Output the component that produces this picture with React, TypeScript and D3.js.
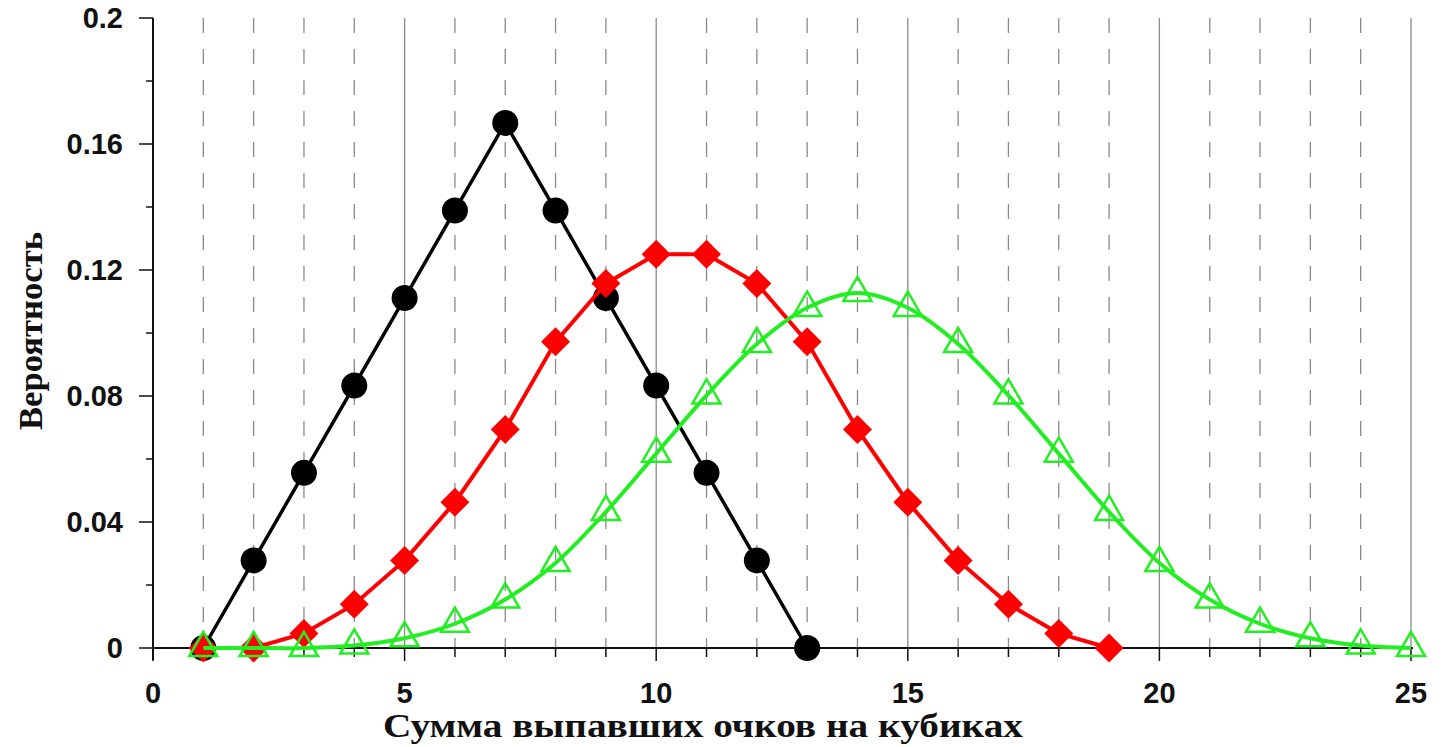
import React, { useEffect, useRef } from 'react';
import * as d3 from 'd3';

// sums of points
const sumsTwo = [1, 2, 3, 4, 5, 6, 7, 8, 9, 10, 11, 12, 13];
const sumsThree = [1, 2, 3, 4, 5, 6, 7, 8, 9, 10, 11, 12, 13, 14, 15, 16, 17, 18, 19];
const sumsFour = [1, 2, 3, 4, 5, 6, 7, 8, 9, 10, 11, 12, 13, 14, 15, 16, 17, 18, 19, 20, 21, 22, 23, 24, 25];

// probabilities
const probTwo = [0, 0.0278, 0.0556, 0.0833, 0.1111, 0.1389, 0.1667, 0.1389, 0.1111, 0.0833, 0.0556, 0.0278, 0];
const probThree = [0, 0, 0.0046, 0.0139, 0.0278, 0.0463, 0.0694, 0.0972, 0.1157, 0.125, 0.125, 0.1157, 0.0972, 0.0694, 0.0463, 0.0278, 0.0139, 0.0046, 0];
const probFour = [0, 0, 0, 0.0008, 0.0031, 0.0077, 0.0154, 0.027, 0.0432, 0.0617, 0.0802, 0.0965, 0.108, 0.1127, 0.108, 0.0965, 0.0802, 0.0617, 0.0432, 0.027, 0.0154, 0.0077, 0.0031, 0.0008, 0];

const xTickLabels = [0, 5, 10, 15, 20, 25];
const yTickLabels = [0, 0.04, 0.08, 0.12, 0.16, 0.2];

const xTitle = 'Сумма выпавших очков на кубиках';
const yTitle = 'Вероятность';

const W = 1443;
const H = 747;

const App = () => {
    const ref = useRef(null);

    useEffect(() => {
        const svg = d3.select(ref.current);
        svg.selectAll('*').remove();

        const x = d3.scaleLinear().domain([0, 25]).range([153, 1411]);
        const y = d3.scaleLinear().domain([0, 0.2]).range([648, 18]);

        // vertical grid
        const grid = svg.append('g');
        d3.range(1, 26).forEach(v => {
            grid.append('line')
                .attr('x1', x(v)).attr('x2', x(v))
                .attr('y1', y(0.2)).attr('y2', y(0))
                .attr('stroke', '#8a8a8a')
                .attr('stroke-width', 1.3)
                .attr('stroke-dasharray', v % 5 === 0 ? null : '15,16');
        });

        // axes
        const axisColor = '#111';
        svg.append('line')
            .attr('x1', x(0)).attr('x2', x(25) + 2)
            .attr('y1', y(0)).attr('y2', y(0))
            .attr('stroke', axisColor).attr('stroke-width', 2);
        svg.append('line')
            .attr('x1', x(0)).attr('x2', x(0))
            .attr('y1', y(0.2)).attr('y2', y(0) + 12)
            .attr('stroke', axisColor).attr('stroke-width', 2);

        // x ticks
        d3.range(0, 26).forEach(v => {
            svg.append('line')
                .attr('x1', x(v)).attr('x2', x(v))
                .attr('y1', y(0))
                .attr('y2', y(0) + (v % 5 === 0 ? 13 : 9))
                .attr('stroke', axisColor).attr('stroke-width', 1.5);
        });
        svg.append('g').selectAll('text')
            .data(xTickLabels)
            .join('text')
            .attr('x', d => x(d))
            .attr('y', 703)
            .attr('text-anchor', 'middle')
            .attr('font-family', '"Liberation Sans", Arial, sans-serif')
            .attr('font-weight', 'bold')
            .attr('font-size', 29)
            .attr('fill', '#111')
            .text(d => d);

        // y ticks
        d3.range(0, 11).forEach(i => {
            const v = i * 0.02;
            svg.append('line')
                .attr('x1', x(0) - (i % 2 === 0 ? 14 : 7)).attr('x2', x(0))
                .attr('y1', y(v)).attr('y2', y(v))
                .attr('stroke', axisColor).attr('stroke-width', 1.5);
        });
        svg.append('g').selectAll('text')
            .data(yTickLabels)
            .join('text')
            .attr('x', 123)
            .attr('y', d => y(d))
            .attr('dy', '0.36em')
            .attr('text-anchor', 'end')
            .attr('font-family', '"Liberation Sans", Arial, sans-serif')
            .attr('font-weight', 'bold')
            .attr('font-size', 29)
            .attr('fill', '#111')
            .text(d => d);

        // titles
        svg.append('text')
            .attr('x', 383)
            .attr('y', 737)
            .attr('textLength', 640)
            .attr('lengthAdjust', 'spacingAndGlyphs')
            .attr('font-family', '"Liberation Serif", "Times New Roman", serif')
            .attr('font-weight', 'bold')
            .attr('font-size', 34)
            .attr('fill', '#111')
            .text(xTitle);
        svg.append('text')
            .attr('transform', `translate(42,430) rotate(-90)`)
            .attr('textLength', 198)
            .attr('lengthAdjust', 'spacingAndGlyphs')
            .attr('font-family', '"Liberation Serif", "Times New Roman", serif')
            .attr('font-weight', 'bold')
            .attr('font-size', 33)
            .attr('fill', '#111')
            .text(yTitle);

        // black: two dice
        const black = sumsTwo.map((s, i) => [s, probTwo[i]]);
        svg.append('path')
            .attr('d', d3.line().x(d => x(d[0])).y(d => y(d[1]))(black))
            .attr('fill', 'none').attr('stroke', '#000').attr('stroke-width', 3.5);
        svg.append('g').selectAll('circle')
            .data(black)
            .join('circle')
            .attr('cx', d => x(d[0]))
            .attr('cy', d => y(d[1]))
            .attr('r', 13)
            .attr('fill', '#000');

        // red: three dice
        const red = sumsThree.map((s, i) => [s, probThree[i]]);
        svg.append('path')
            .attr('d', d3.line().x(d => x(d[0])).y(d => y(d[1]))(red))
            .attr('fill', 'none').attr('stroke', '#ff0000').attr('stroke-width', 4);
        const diamond = d3.symbol().type(d3.symbolSquare).size(420);
        svg.append('g').selectAll('path')
            .data(red)
            .join('path')
            .attr('d', diamond)
            .attr('transform', d => `translate(${x(d[0])},${y(d[1])}) rotate(45)`)
            .attr('fill', '#ff0000');

        // green: four dice
        const green = sumsFour.map((s, i) => [s, probFour[i]]);
        svg.append('path')
            .attr('d', d3.line().curve(d3.curveCatmullRom).x(d => x(d[0])).y(d => y(d[1]))(green))
            .attr('fill', 'none').attr('stroke', '#22ee22').attr('stroke-width', 4);
        const tri = d3.symbol().type(d3.symbolTriangle).size(340);
        svg.append('g').selectAll('path')
            .data(green)
            .join('path')
            .attr('d', tri)
            .attr('transform', d => `translate(${x(d[0])},${y(d[1])})`)
            .attr('fill', 'none')
            .attr('stroke', '#22ee22')
            .attr('stroke-width', 2.5);
    }, []);

    return (
        <svg ref={ref} width={W} height={H}
            style={{ position: 'absolute', top: 0, left: 0, background: '#fff' }} />
    );
};

export default App;
